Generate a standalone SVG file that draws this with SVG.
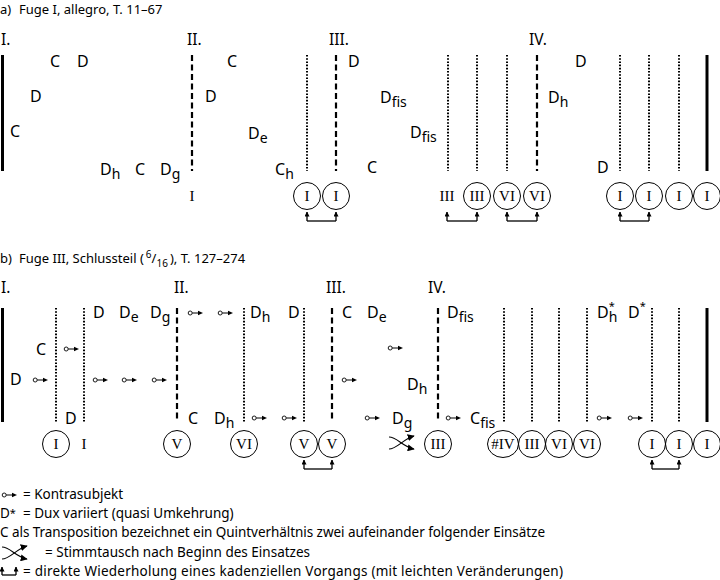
<svg xmlns="http://www.w3.org/2000/svg" xmlns:xlink="http://www.w3.org/1999/xlink" width="720" height="580" viewBox="0 0 720 580">
<style>
text{font-family:"Noto Sans","Open Sans","DejaVu Sans",sans-serif;fill:#000}
.t{font-size:16px}
.s{font-size:14px}
.rn{font-size:15.5px}
.cap{font-size:13px}
.lg{font-size:13.5px}
.ser{font-family:"Liberation Serif","Times New Roman",serif;font-size:15px;text-anchor:middle}
.c{fill:none;stroke:#000;stroke-width:1}
.solid{stroke:#000;stroke-width:3}
.dash{stroke:#000;stroke-width:2.2;stroke-dasharray:6 3.5}
.dot{stroke:#000;stroke-width:2;stroke-dasharray:1.6 1.6}
.br{fill:none;stroke:#000;stroke-width:1.3}
.ln{fill:none;stroke:#000;stroke-width:1.1}
</style>
<defs>
<g id="ks"><circle cx="2.2" cy="0" r="2" fill="none" stroke="#000" stroke-width="0.9"/><line x1="4.2" y1="0" x2="11" y2="0" stroke="#000" stroke-width="1"/><path d="M15,0 L10,-2.2 L10,2.2 Z" fill="#000"/></g>
<marker id="ah" viewBox="0 0 10 10" refX="9" refY="5" markerWidth="7" markerHeight="7" markerUnits="userSpaceOnUse" orient="auto"><path d="M0,0 L10,5 L0,10 Z" fill="#000"/></marker>
<marker id="up" viewBox="0 0 10 10" refX="9" refY="5" markerWidth="5" markerHeight="5" markerUnits="userSpaceOnUse" orient="auto"><path d="M0,0 L10,5 L0,10 Z" fill="#000"/></marker>
<g id="cross"><path d="M0,1 C8,1 14,11 25,13" class="ln" marker-end="url(#ah)"/><path d="M0,13 C8,13 14,3 25,0" class="ln" marker-end="url(#ah)"/></g>
</defs>
<rect width="720" height="580" fill="#fff"/>

<!-- ================= Section a ================= -->
<g id="title-a"><text class="cap" x="0" y="14">a)</text><text class="cap" x="19" y="14">Fuge I, allegro, T. 11–67</text></g>
<g id="a-labels">
<text class="rn" x="1" y="45">I.</text>
<text class="rn" x="187" y="45">II.</text>
<text class="rn" x="329" y="45">III.</text>
<text class="rn" x="529" y="45">IV.</text>
</g>
<g id="a-lines">
<line class="solid" x1="2.5" y1="55" x2="2.5" y2="171"/>
<line class="dash" x1="192" y1="55" x2="192" y2="171"/>
<line class="dot" x1="307" y1="55" x2="307" y2="171"/>
<line class="dash" x1="336" y1="55" x2="336" y2="171"/>
<line class="dot" x1="448" y1="55" x2="448" y2="171"/>
<line class="dot" x1="477" y1="55" x2="477" y2="171"/>
<line class="dot" x1="507" y1="55" x2="507" y2="171"/>
<line class="dash" x1="537" y1="55" x2="537" y2="171"/>
<line class="dot" x1="620" y1="55" x2="620" y2="171"/>
<line class="dot" x1="649" y1="55" x2="649" y2="171"/>
<line class="dot" x1="679" y1="55" x2="679" y2="171"/>
<line class="solid" x1="707" y1="55" x2="707" y2="171"/>
</g>
<g id="a-entries">
<text class="t" x="50" y="67">C</text>
<text class="t" x="77" y="67">D</text>
<text class="t" x="30" y="102">D</text>
<text class="t" x="10" y="137">C</text>
<text class="t" x="100" y="175">D<tspan class="s" dy="4">h</tspan></text>
<text class="t" x="135" y="175">C</text>
<text class="t" x="160" y="175">D<tspan class="s" dy="4">g</tspan></text>
<text class="t" x="227" y="67">C</text>
<text class="t" x="205" y="102">D</text>
<text class="t" x="248" y="139">D<tspan class="s" dy="4">e</tspan></text>
<text class="t" x="275" y="175">C<tspan class="s" dy="4">h</tspan></text>
<text class="t" x="348" y="67">D</text>
<text class="t" x="380" y="103">D<tspan class="s" dy="4">fis</tspan></text>
<text class="t" x="410" y="138">D<tspan class="s" dy="4">fis</tspan></text>
<text class="t" x="367" y="173">C</text>
<text class="t" x="548" y="103">D<tspan class="s" dy="4">h</tspan></text>
<text class="t" x="575" y="67">D</text>
<text class="t" x="597" y="173">D</text>
</g>
<g id="a-degrees">
<text class="ser" x="192" y="201">I</text>
<circle class="c" cx="307" cy="196" r="13.5"/><text class="ser" x="307" y="201">I</text>
<circle class="c" cx="336" cy="196" r="13.5"/><text class="ser" x="336" y="201">I</text>
<text class="ser" x="447" y="201">III</text>
<circle class="c" cx="477" cy="196" r="13.5"/><text class="ser" x="477" y="201">III</text>
<circle class="c" cx="507" cy="196" r="13.5"/><text class="ser" x="507" y="201">VI</text>
<circle class="c" cx="537" cy="196" r="13.5"/><text class="ser" x="537" y="201">VI</text>
<circle class="c" cx="620" cy="196" r="13.5"/><text class="ser" x="620" y="201">I</text>
<circle class="c" cx="649" cy="196" r="13.5"/><text class="ser" x="649" y="201">I</text>
<circle class="c" cx="679" cy="196" r="13.5"/><text class="ser" x="679" y="201">I</text>
<circle class="c" cx="707" cy="196" r="13.5"/><text class="ser" x="707" y="201">I</text>
</g>
<g id="a-connectors">
<path class="br" d="M307,221 H336"/><path class="br" d="M307,221 V212" marker-end="url(#up)"/><path class="br" d="M336,221 V212" marker-end="url(#up)"/>
<path class="br" d="M447,221 H477"/><path class="br" d="M447,221 V212" marker-end="url(#up)"/><path class="br" d="M477,221 V212" marker-end="url(#up)"/>
<path class="br" d="M507,221 H537"/><path class="br" d="M507,221 V212" marker-end="url(#up)"/><path class="br" d="M537,221 V212" marker-end="url(#up)"/>
<path class="br" d="M620,221 H649"/><path class="br" d="M620,221 V212" marker-end="url(#up)"/><path class="br" d="M649,221 V212" marker-end="url(#up)"/>
</g>

<!-- ================= Section b ================= -->
<g id="title-b"><text class="cap" x="0" y="263">b)</text><text class="cap" x="19" y="263">Fuge III, Schlussteil  (<tspan font-size="10" dx="2" dy="-5">6</tspan><tspan dy="5">/</tspan><tspan font-size="10" dy="4">16</tspan><tspan dx="2" dy="-4">), T. 127–274</tspan></text></g>
<g id="b-labels">
<text class="rn" x="1" y="293">I.</text>
<text class="rn" x="174" y="293">II.</text>
<text class="rn" x="326" y="293">III.</text>
<text class="rn" x="428" y="293">IV.</text>
</g>
<g id="b-lines">
<line class="solid" x1="2.5" y1="308" x2="2.5" y2="422"/>
<line class="dot" x1="56" y1="308" x2="56" y2="422"/>
<line class="dot" x1="84" y1="308" x2="84" y2="422"/>
<line class="dash" x1="177" y1="308" x2="177" y2="422"/>
<line class="dot" x1="244" y1="308" x2="244" y2="422"/>
<line class="dot" x1="304" y1="308" x2="304" y2="422"/>
<line class="dash" x1="332" y1="308" x2="332" y2="422"/>
<line class="dash" x1="438" y1="308" x2="438" y2="422"/>
<line class="dot" x1="504" y1="308" x2="504" y2="422"/>
<line class="dot" x1="532" y1="308" x2="532" y2="422"/>
<line class="dot" x1="559" y1="308" x2="559" y2="422"/>
<line class="dot" x1="587" y1="308" x2="587" y2="422"/>
<line class="dot" x1="652" y1="308" x2="652" y2="422"/>
<line class="dot" x1="679" y1="308" x2="679" y2="422"/>
<line class="solid" x1="707" y1="308" x2="707" y2="422"/>
</g>
<g id="b-entries">
<text class="t" x="10" y="385">D</text>
<text class="t" x="36" y="355">C</text>
<text class="t" x="65" y="424">D</text>
<text class="t" x="93" y="318">D</text>
<text class="t" x="119" y="318">D<tspan class="s" dy="4">e</tspan></text>
<text class="t" x="150" y="318">D<tspan class="s" dy="4">g</tspan></text>
<text class="t" x="250" y="318">D<tspan class="s" dy="4">h</tspan></text>
<text class="t" x="288" y="318">D</text>
<text class="t" x="342" y="318">C</text>
<text class="t" x="188" y="424">C</text>
<text class="t" x="214" y="424">D<tspan class="s" dy="4">h</tspan></text>
<text class="t" x="367" y="318">D<tspan class="s" dy="4">e</tspan></text>
<text class="t" x="407" y="390">D<tspan class="s" dy="4">h</tspan></text>
<text class="t" x="447" y="318">D<tspan class="s" dy="4">fis</tspan></text>
<text class="t" x="392" y="424">D<tspan class="s" dy="4">g</tspan></text>
<text class="t" x="470" y="424">C<tspan class="s" dy="4">fis</tspan></text>
<text class="t" x="597" y="318">D<tspan font-size="11" dy="-8">*</tspan><tspan class="s" dx="-6" dy="12">h</tspan></text>
<text class="t" x="628" y="318">D<tspan font-size="11" dy="-8">*</tspan></text>
</g>
<g id="b-kontrasubjekt">
<use xlink:href="#ks" x="33" y="380"/>
<use xlink:href="#ks" x="64" y="349"/>
<use xlink:href="#ks" x="93" y="380"/>
<use xlink:href="#ks" x="122" y="380"/>
<use xlink:href="#ks" x="152" y="380"/>
<use xlink:href="#ks" x="188" y="313"/>
<use xlink:href="#ks" x="218" y="313"/>
<use xlink:href="#ks" x="342" y="380"/>
<use xlink:href="#ks" x="252" y="418"/>
<use xlink:href="#ks" x="282" y="418"/>
<use xlink:href="#ks" x="388" y="348"/>
<use xlink:href="#ks" x="365" y="418"/>
<use xlink:href="#ks" x="446" y="418"/>
<use xlink:href="#ks" x="597" y="418"/>
<use xlink:href="#ks" x="628" y="418"/>
</g>
<g id="b-degrees">
<circle class="c" cx="56" cy="444" r="13.5"/><text class="ser" x="56" y="449">I</text>
<text class="ser" x="84" y="449">I</text>
<circle class="c" cx="177" cy="444" r="13.5"/><text class="ser" x="177" y="449">V</text>
<circle class="c" cx="244" cy="444" r="13.5"/><text class="ser" x="244" y="449">VI</text>
<circle class="c" cx="304" cy="444" r="13.5"/><text class="ser" x="304" y="449">V</text>
<circle class="c" cx="332" cy="444" r="13.5"/><text class="ser" x="332" y="449">V</text>
<circle class="c" cx="438" cy="444" r="13.5"/><text class="ser" x="438" y="449">III</text>
<ellipse class="c" cx="503" cy="444" rx="15.5" ry="13.5"/><text class="ser" x="503" y="449">#IV</text>
<circle class="c" cx="532" cy="444" r="13.5"/><text class="ser" x="532" y="449">III</text>
<circle class="c" cx="559" cy="444" r="13.5"/><text class="ser" x="559" y="449">VI</text>
<circle class="c" cx="587" cy="444" r="13.5"/><text class="ser" x="587" y="449">VI</text>
<circle class="c" cx="652" cy="444" r="13.5"/><text class="ser" x="652" y="449">I</text>
<circle class="c" cx="679" cy="444" r="13.5"/><text class="ser" x="679" y="449">I</text>
<circle class="c" cx="707" cy="444" r="13.5"/><text class="ser" x="707" y="449">I</text>
</g>
<g id="b-connectors">
<use xlink:href="#cross" x="389" y="436"/>
<path class="br" d="M304,469 H332"/><path class="br" d="M304,469 V460" marker-end="url(#up)"/><path class="br" d="M332,469 V460" marker-end="url(#up)"/>
<path class="br" d="M652,469 H679"/><path class="br" d="M652,469 V460" marker-end="url(#up)"/><path class="br" d="M679,469 V460" marker-end="url(#up)"/>
</g>

<!-- ================= Legend ================= -->
<g id="legend">
<use xlink:href="#ks" x="2" y="495"/>
<text class="lg" x="23" y="499">= Kontrasubjekt</text>
<text class="lg" x="0" y="518">D<tspan font-size="11" dy="-1">*</tspan></text>
<text class="lg" x="23" y="518">= Dux variiert (quasi Umkehrung)</text>
<text class="lg" x="0" y="537" textLength="545" lengthAdjust="spacing">C als Transposition bezeichnet ein Quintverhältnis zwei aufeinander folgender Einsätze</text>
<use xlink:href="#cross" x="2" y="546"/>
<text class="lg" x="45" y="557">= Stimmtausch nach Beginn des Einsatzes</text>
<path class="br" d="M2,575 H16"/><path class="br" d="M2,575 V567" marker-end="url(#up)"/><path class="br" d="M16,575 V567" marker-end="url(#up)"/>
<text class="lg" x="23" y="576" textLength="540" lengthAdjust="spacing">= direkte Wiederholung eines kadenziellen Vorgangs (mit leichten Veränderungen)</text>
</g>
</svg>
